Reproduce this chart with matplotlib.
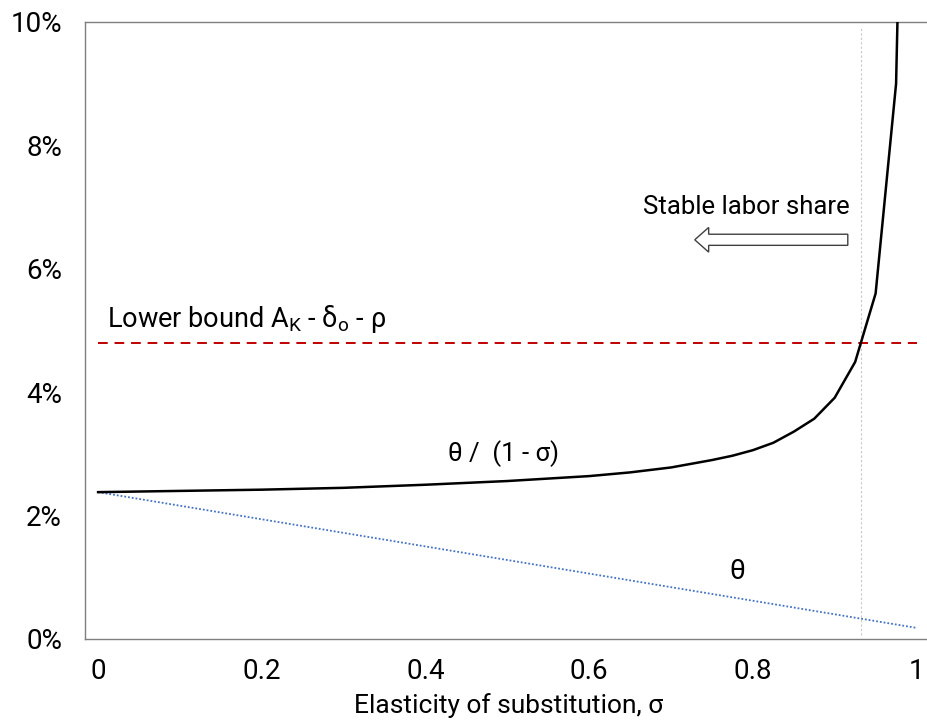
import matplotlib
matplotlib.use("Agg")
import matplotlib.pyplot as plt
from matplotlib.patches import FancyArrow

plt.rcParams['font.family'] = ['Roboto', 'DejaVu Sans']
plt.rcParams['mathtext.fontset'] = 'custom'
plt.rcParams['mathtext.rm'] = 'Roboto'
plt.rcParams['mathtext.it'] = 'Roboto'

# values (percent)
sigma = [0, 0.1, 0.2, 0.3, 0.4, 0.5, 0.55, 0.6, 0.65, 0.7, 0.725, 0.75,
         0.775, 0.8, 0.825, 0.85, 0.875, 0.9, 0.925, 0.95, 0.975, 0.99]
theta_ratio = [2.38, 2.40, 2.42, 2.45, 2.50, 2.56, 2.60, 2.64, 2.70, 2.78,
               2.84, 2.90, 2.97, 3.06, 3.18, 3.36, 3.57, 3.91, 4.49, 5.60,
               9.00, 18.0]
theta_sigma = [0, 1.0]
theta = [2.38, 0.18]
bound_sigma = [0, 1.0]
lower_bound = [4.79, 4.79]
sigma_cross = 0.932

x_ticks = [0, 0.2, 0.4, 0.6, 0.8, 1]
x_labels = ['0', '0.2', '0.4', '0.6', '0.8', '1']
y_ticks = [0, 2, 4, 6, 8, 10]
y_labels = ['0%', '2%', '4%', '6%', '8%', '10%']

fig = plt.figure(figsize=(9.28, 7.23), dpi=100)
ax = fig.add_axes([0.0916, 0.1162, 1 - 0.0916, 0.9696 - 0.1162])

ax.plot(sigma, theta_ratio, color='black', lw=1.8, zorder=4)
ax.plot(theta_sigma, theta, color='#4472C4', lw=1.3, ls=(0, (1, 1.1)), zorder=3)
ax.plot(bound_sigma, lower_bound, color='#C00000', lw=1.4, ls=(0, (5, 3.5)), zorder=3)
ax.plot([sigma_cross, sigma_cross], [0.07, 9.9], color='#C8C8C8', lw=0.8,
        ls=(0, (2, 2)), zorder=2)

# "Stable labor share" block arrow
ax.add_patch(FancyArrow(0.916, 6.47, -0.187, 0, width=0.18, head_width=0.40,
                        head_length=0.017, length_includes_head=True,
                        facecolor='white', edgecolor='#404040', lw=1, zorder=5))
ax.text(0.792, 7.0, 'Stable labor share', fontsize=18.5, ha='center', va='center')

ax.text(0.011, 5.18, r'Lower bound A$_{\mathrm{K}}$ - δ$_{\mathrm{o}}$ - ρ',
        fontsize=19.5, ha='left', va='center')
ax.text(0.495, 3.01, 'θ /  (1 - σ)', fontsize=18.5, ha='center', va='center')
ax.text(0.781, 1.09, 'θ', fontsize=20, ha='center', va='center')

ax.set_xlim(-0.016, 1.014)
ax.set_ylim(0, 10)
ax.set_xticks(x_ticks)
ax.set_xticklabels(x_labels)
ax.set_yticks(y_ticks)
ax.set_yticklabels(y_labels)
ax.tick_params(length=0, labelsize=20)
ax.tick_params(axis='x', pad=14)
ax.tick_params(axis='y', pad=16.5)
for s in ['left', 'bottom', 'top']:
    ax.spines[s].set_color('#7F7F7F')
    ax.spines[s].set_linewidth(1.0)
ax.spines['right'].set_visible(False)

fig.text(509 / 928, 1 - 706 / 723, 'Elasticity of substitution, σ', fontsize=19,
         ha='center', va='center')

fig.savefig('out.png', dpi=100)
